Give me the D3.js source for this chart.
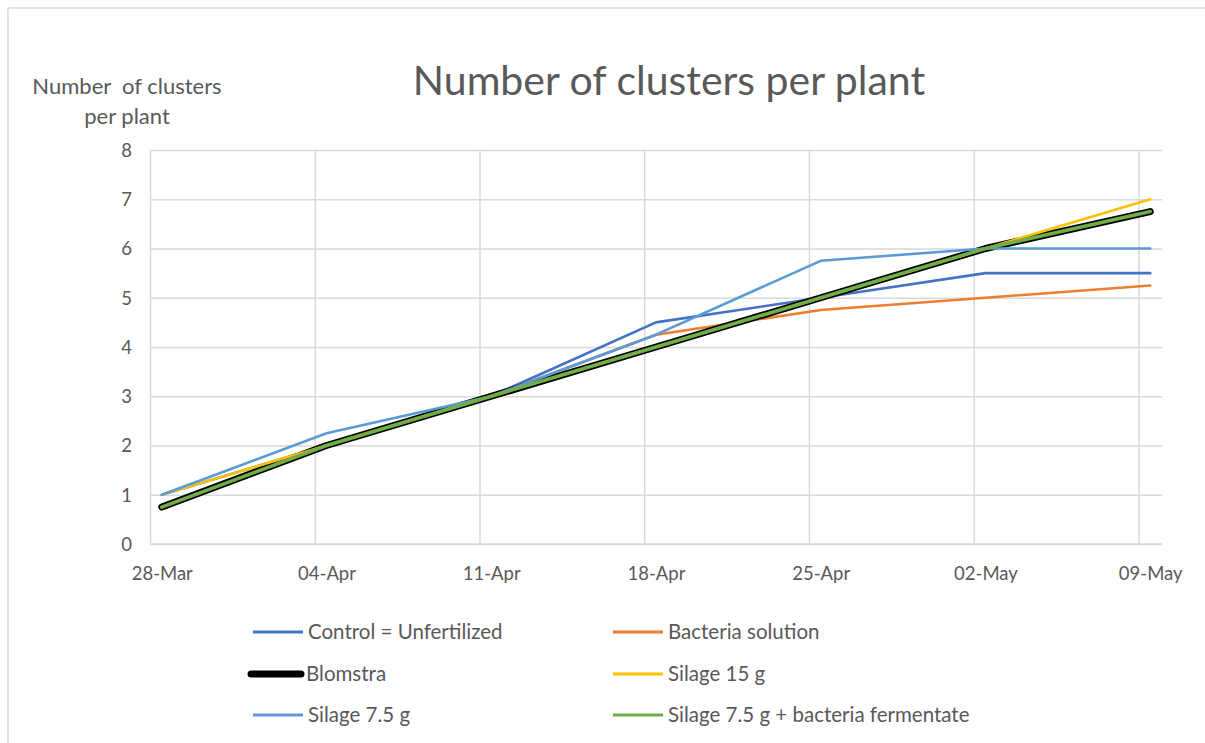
<!DOCTYPE html>
<html>
<head>
<meta charset="utf-8">
<script src="https://cdn.jsdelivr.net/npm/d3@7"></script>
<style>
  html, body { margin: 0; padding: 0; background: #fff; }
  svg { display: block; }
  text { font-family: Lato, "Open Sans", sans-serif; fill: #595959; white-space: pre; }
</style>
</head>
<body>
<svg id="chart" width="1205" height="743"></svg>
<script>
// ---- data ----
const dates = ["2021-03-28", "2021-04-04", "2021-04-11", "2021-04-18", "2021-04-25", "2021-05-02", "2021-05-09"];
const tickLabels = ["28-Mar", "04-Apr", "11-Apr", "18-Apr", "25-Apr", "02-May", "09-May"];
const yTicks = [0, 1, 2, 3, 4, 5, 6, 7, 8];
const seriesNames = ["Control = Unfertilized", "Bacteria solution", "Blomstra", "Silage 15 g", "Silage 7.5 g", "Silage 7.5 g + bacteria fermentate"];
const control = [1, 2, 3, 4.5, 5, 5.5, 5.5];
const bacteria = [0.75, 2, 3, 4.25, 4.75, 5, 5.25];
const blomstra = [0.75, 2, 3, 4, 5, 6, 6.75];
const silage15 = [1, 2, 3, 4, 5, 6, 7];
const silage75 = [1, 2.25, 3, 4.25, 5.75, 6, 6];
const silage75bact = [0.75, 2, 3, 4, 5, 6, 6.75];

const seriesValues = [control, bacteria, blomstra, silage15, silage75, silage75bact];
const colors = ["#4472C4", "#ED7D31", "#000000", "#FFC000", "#5B9BD5", "#70AD47"];
const widths = [2.6, 2.6, 7, 2.6, 2.6, 3.6];

const svg = d3.select("#chart");
const parse = d3.utcParse("%Y-%m-%d");
const dayMs = 864e5;
const dateObjs = dates.map(parse);
const start = dateObjs[0];
const end = new Date(+dateObjs[dateObjs.length - 1] + dayMs);

const x = d3.scaleUtc().domain([start, end]).range([150, 1162]);
const y = d3.scaleLinear().domain([0, 8]).range([544, 150]);
const mid = d => new Date(+d + dayMs / 2);

// chart border
svg.append("rect").attr("x", 8).attr("y", 8).attr("width", 1230).attr("height", 760)
  .attr("fill", "none").attr("stroke", "#d9d9d9").attr("stroke-width", 1.5);

// title
svg.append("text").attr("x", 669).attr("y", 95).attr("text-anchor", "middle")
  .style("font-size", "41px").text("Number of clusters per plant");

// y-axis title
svg.append("text").attr("x", 127).attr("y", 94).attr("text-anchor", "middle")
  .style("font-size", "22px").text("Number  of clusters");
svg.append("text").attr("x", 127).attr("y", 124).attr("text-anchor", "middle")
  .style("font-size", "22px").text("per plant");

// horizontal gridlines via axis
const yAxis = d3.axisLeft(y).tickValues(yTicks).tickSize(-(1162 - 150)).tickFormat(d3.format("d")).tickPadding(18);
const gy = svg.append("g").attr("transform", "translate(150,0)").call(yAxis);
gy.select(".domain").remove();
gy.selectAll(".tick line").attr("stroke", "#d9d9d9").attr("stroke-width", 1.5);
gy.selectAll(".tick text").style("font-size", "18.5px").style("font-family", "Lato, sans-serif").attr("fill", "#595959").attr("dy", "0.35em");

// vertical gridlines
const xGrid = d3.axisBottom(x).tickValues(dateObjs).tickSize(-(544 - 150)).tickFormat("");
const gx = svg.append("g").attr("transform", "translate(0,544)").call(xGrid);
gx.select(".domain").remove();
gx.selectAll(".tick line").attr("stroke", "#d9d9d9").attr("stroke-width", 1.5);

// x labels at mid-day
const xLab = d3.axisBottom(x).tickValues(dateObjs.map(mid)).tickSize(0).tickPadding(23)
  .tickFormat((d, i) => tickLabels[i]);
const gxl = svg.append("g").attr("transform", "translate(0,544)").call(xLab);
gxl.select(".domain").remove();
gxl.selectAll(".tick text").style("font-size", "18.5px").style("font-family", "Lato, sans-serif").attr("fill", "#595959");

// axis line
svg.append("line").attr("x1", 150).attr("x2", 1162).attr("y1", y(0)).attr("y2", y(0))
  .attr("stroke", "#d9d9d9").attr("stroke-width", 1.5);

// lines
const line = d3.line().x((d, i) => x(mid(dateObjs[i]))).y(d => y(d));
seriesValues.forEach((vals, k) => {
  svg.append("path").datum(vals).attr("d", line)
    .attr("fill", "none").attr("stroke", colors[k]).attr("stroke-width", widths[k])
    .attr("stroke-linejoin", "round").attr("stroke-linecap", "round");
});

// legend
const legPos = [[253, 632], [613, 632], [251, 674], [613, 674], [253, 715], [613, 715]];
seriesNames.forEach((name, k) => {
  const [lx, ly] = legPos[k];
  svg.append("line").attr("x1", lx).attr("x2", lx + 50).attr("y1", ly).attr("y2", ly)
    .attr("stroke", colors[k]).attr("stroke-width", k === 2 ? 7 : 3)
    .attr("stroke-linecap", k === 2 ? "round" : "butt");
  svg.append("text").attr("x", lx + 55).attr("y", ly).attr("dy", "0.35em")
    .style("font-size", "20.5px").text(name);
});
</script>
</body>
</html>
